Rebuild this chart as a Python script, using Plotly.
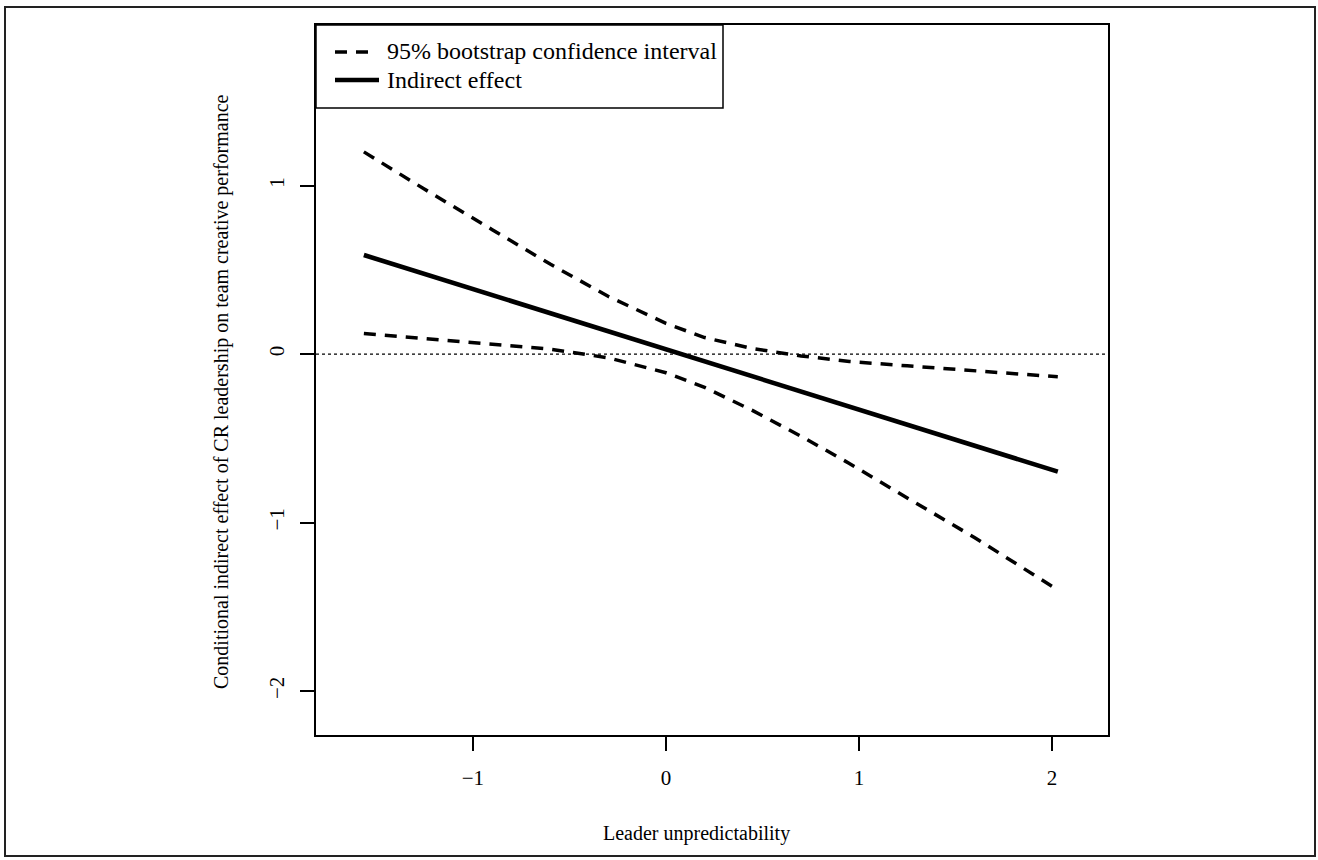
import plotly.graph_objects as go

# ---- data ----
x_vals = [-1.565, -1.25, -0.9, -0.6, -0.3, 0.0, 0.2, 0.45, 0.7, 0.95, 1.25, 1.6, 2.03]
ci_upper = [1.200, 0.978, 0.738, 0.534, 0.343, 0.182, 0.098, 0.032, -0.011, -0.044, -0.070, -0.100, -0.135]
ci_lower = [0.122, 0.093, 0.060, 0.029, -0.022, -0.111, -0.198, -0.336, -0.488, -0.649, -0.854, -1.090, -1.400]
indirect = [0.588, 0.475, 0.350, 0.243, 0.135, 0.028, -0.043, -0.133, -0.222, -0.311, -0.419, -0.544, -0.698]

x_ticks = [-1, 0, 1, 2]
y_ticks = [-2, -1, 0, 1]
x_range = [-1.813, 2.29]
y_range = [-2.261, 1.953]

legend_labels = ["95% bootstrap confidence interval", "Indirect effect"]
x_title = "Leader unpredictability"
y_title = "Conditional indirect effect of CR leadership on team creative performance"

# ---- layout geometry ----
W, H = 1318, 860
L, R, T, B = 316, 1108, 25, 735
FONT = "Liberation Serif"


def px(xp):
    return (xp - L) / (R - L)


def py(yp):
    return (B - yp) / (B - T)


fig = go.Figure()

dash_style = "12px,9px"
DASH_W = 3.5
SOLID_W = 4.6
fig.add_trace(go.Scatter(x=x_vals, y=ci_upper, mode="lines",
                         line=dict(color="black", width=DASH_W, dash=dash_style),
                         name=legend_labels[0], showlegend=False))
fig.add_trace(go.Scatter(x=x_vals, y=ci_lower, mode="lines",
                         line=dict(color="black", width=DASH_W, dash=dash_style),
                         name=legend_labels[0], showlegend=False))
fig.add_trace(go.Scatter(x=x_vals, y=indirect, mode="lines",
                         line=dict(color="black", width=SOLID_W),
                         name=legend_labels[1], showlegend=False))

shapes = []
# zero reference line (dotted)
shapes.append(dict(type="line", xref="paper", yref="y", x0=0, x1=1, y0=0, y1=0,
                   line=dict(color="black", width=1.3, dash="3px,3px")))
# outer figure frame
shapes.append(dict(type="rect", xref="paper", yref="paper",
                   x0=px(5), x1=px(1315), y0=py(856), y1=py(7),
                   line=dict(color="#222", width=2)))
# legend box
shapes.append(dict(type="rect", xref="paper", yref="paper",
                   x0=px(316), x1=px(723), y0=py(108), y1=py(25),
                   line=dict(color="black", width=1.5), fillcolor="white", layer="above"))
# legend samples
shapes.append(dict(type="line", xref="paper", yref="paper",
                   x0=px(335), x1=px(370), y0=py(52), y1=py(52),
                   line=dict(color="black", width=DASH_W, dash=dash_style), layer="above"))
shapes.append(dict(type="line", xref="paper", yref="paper",
                   x0=px(335), x1=px(379), y0=py(80), y1=py(80),
                   line=dict(color="black", width=SOLID_W), layer="above"))

annotations = []
for label, ypix in zip(legend_labels, [51, 80]):
    annotations.append(dict(text=label, xref="paper", yref="paper",
                            x=px(385), y=py(ypix), xanchor="left", yanchor="middle",
                            showarrow=False, font=dict(family=FONT, size=24, color="black")))
annotations.append(dict(text=x_title, xref="paper", yref="paper",
                        x=px(696), y=py(833), xanchor="center", yanchor="middle",
                        showarrow=False, font=dict(family=FONT, size=20, color="black")))
annotations.append(dict(text=y_title, xref="paper", yref="paper",
                        x=px(221), y=py(392), xanchor="center", yanchor="middle",
                        textangle=-90, showarrow=False,
                        font=dict(family=FONT, size=20, color="black")))

fig.update_layout(
    width=W, height=H, autosize=False,
    margin=dict(l=L, r=W - R, t=T, b=H - B, pad=0),
    paper_bgcolor="white", plot_bgcolor="white",
    font=dict(family=FONT, size=20, color="black"),
    shapes=shapes, annotations=annotations,
    showlegend=False,
)
fig.update_xaxes(range=x_range, tickvals=x_ticks, ticks="outside", ticklen=14,
                 tickwidth=1.5, tickcolor="black", showline=True, linecolor="black",
                 linewidth=1.5, mirror=True, showgrid=False, zeroline=False,
                 tickfont=dict(family=FONT, size=21, color="black"), ticklabelstandoff=9)
fig.update_yaxes(range=y_range, tickvals=y_ticks, ticks="outside", ticklen=14,
                 tickwidth=1.5, tickcolor="black", showline=True, linecolor="black",
                 linewidth=1.5, mirror=True, showgrid=False, zeroline=False,
                 tickangle=-90,
                 tickfont=dict(family=FONT, size=21, color="black"), ticklabelstandoff=8)

fig.write_html(
    "out.html",
    config={"displayModeBar": False},
    post_script="document.body.style.margin='0';document.body.style.overflow='hidden';",
)
